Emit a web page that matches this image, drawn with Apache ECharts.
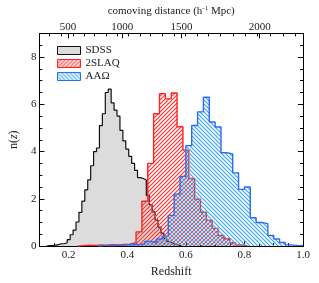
<!DOCTYPE html>
<html><head><meta charset="utf-8">
<script src="https://cdn.jsdelivr.net/npm/echarts@6/dist/echarts.min.js"></script>
<style>html,body{margin:0;padding:0;background:#fff}#c{width:319px;height:283px}</style>
</head><body><div id="c"></div>
<script>
// ---- data (bin start, bin width, bin heights) ----
const sdssStart = 0.125, sdssWidth = 0.01;
const sdssValues = [0.02,0.02,0.04,0.06,0.1,0.1,0.14,0.27,0.48,0.68,1.02,1.43,1.9,2.38,2.8,3.4,4.0,4.15,5.1,5.6,6.5,6.64,6.06,5.75,5.5,4.9,4.45,4.1,3.8,3.5,3.2,2.9,2.86,2.8,2.15,1.75,1.45,1.1,0.8,0.55,0.33,0.2,0.12,0.07,0.04,0.02];
const slaqStart = 0.23, slaqWidth = 0.02;
const slaqValues = [0.02,0.04,0.03,0.05,0.04,0.06,0.05,0.07,0.08,0.15,0.6,1.9,3.5,5.6,6.45,6.23,6.48,5.05,4.06,2.86,1.98,1.43,1.09,0.75,0.45,0.31,0.14,0.05,0.02];
const aaoStart = 0.30, aaoWidth = 0.02;
const aaoValues = [0.02,0.03,0.02,0.04,0.05,0.08,0.06,0.1,0.2,0.15,0.3,0.42,1.3,2.2,2.95,4.25,5.1,5.68,6.3,5.25,5.04,3.95,3.9,3.1,2.4,2.5,1.2,1.0,0.95,0.45,0.3,0.15,0.05,0.03,0.02];
const seriesNames = ['SDSS','2SLAQ','AA\u03A9'];
// ---- axes ----
const xMajor = [0.2,0.4,0.6,0.8,1.0];
const xMinorStep = 0.05;
const yMajor = [0,2,4,6,8];
const yMinorStep = 0.5;
const topLabelDist = [500,1000,1500,2000];
const topLabelZ = [0.198,0.383,0.585,0.852];
const topTickZ = [0.132,0.175,0.215,0.254,0.288,0.327,0.365,0.403,0.444,0.48,0.52,0.56,0.599,0.639,0.678,0.718,0.761,0.803,0.845,0.888,0.931,0.973];

function steps(start, w, vals) {
  const pts = [[start, 0]];
  vals.forEach((v, i) => pts.push([+(start + i * w).toFixed(4), v]));
  const end = +(start + vals.length * w).toFixed(4);
  pts.push([end, vals[vals.length - 1]]);
  pts.push([end, 0]);
  return pts;
}
function range(a, b, s) { const r = []; for (let i = 0; a + i * s <= b + 1e-9; i++) r.push(+(a + i * s).toFixed(4)); return r; }
function hatch(color, dir, size, lw) {
  const c = document.createElement('canvas'); c.width = c.height = size;
  const g = c.getContext('2d'); g.strokeStyle = color; g.lineWidth = lw; g.beginPath();
  if (dir > 0) {
    g.moveTo(0, size); g.lineTo(size, 0);
    g.moveTo(-1, 1); g.lineTo(1, -1);
    g.moveTo(size - 1, size + 1); g.lineTo(size + 1, size - 1);
  } else {
    g.moveTo(0, 0); g.lineTo(size, size);
    g.moveTo(-1, size - 1); g.lineTo(1, size + 1);
    g.moveTo(size - 1, -1); g.lineTo(size + 1, 1);
  }
  g.stroke();
  return { image: c, repeat: 'repeat' };
}
const F = 'Liberation Serif';
const redHatch = hatch('#ff3030', 1, 4, 1.2);
const blueHatch = hatch('#3aa8f0', -1, 4, 1.2);
const gray = '#dcdcdc';
const redLine = '#ff2020', blueLine = '#2f6cf5', blackLine = '#111';

const xMinor = range(0.1, 1.0, xMinorStep).filter(v => !xMajor.some(m => Math.abs(m - v) < 1e-6));
const yMinor = range(0, 9, yMinorStep).filter(v => !yMajor.some(m => Math.abs(m - v) < 1e-6));
const lbl = { fontFamily: F, fontSize: 11, color: '#222' };
function xa(pos, ticks, len, labels, extra) {
  return Object.assign({
    type: 'value', min: 0.1, max: 1.0, position: pos,
    axisLine: { show: true, onZero: false, lineStyle: { color: '#000', width: 1 } },
    axisTick: { inside: true, length: len, customValues: ticks, lineStyle: { color: '#000', width: 1 } },
    axisLabel: labels ? Object.assign({ customValues: ticks }, lbl, labels) : { show: false },
    splitLine: { show: false }
  }, extra || {});
}
function ya(pos, ticks, len, labels, extra) {
  return Object.assign({
    type: 'value', min: 0, max: 9, position: pos,
    axisLine: { show: true, onZero: false, lineStyle: { color: '#000', width: 1 } },
    axisTick: { inside: true, length: len, customValues: ticks, lineStyle: { color: '#000', width: 1 } },
    axisLabel: labels ? Object.assign({ customValues: ticks }, lbl, labels) : { show: false },
    splitLine: { show: false }
  }, extra || {});
}
const chart = echarts.init(document.getElementById('c'), null, { renderer: 'canvas' });
chart.setOption({
  animation: false,
  grid: { left: 38, right: 16, top: 26, bottom: 35, containLabel: false },
  legend: {
    orient: 'vertical', left: 52, top: 40, itemWidth: 23, itemHeight: 8, itemGap: 2,
    textStyle: { fontFamily: F, fontSize: 11, color: '#222' },
    data: [
      { name: seriesNames[0], icon: 'rect', itemStyle: { color: gray, borderColor: blackLine, borderWidth: 1 } },
      { name: seriesNames[1], icon: 'rect', itemStyle: { color: redHatch, borderColor: redLine, borderWidth: 1 } },
      { name: seriesNames[2], icon: 'rect', itemStyle: { color: blueHatch, borderColor: blueLine, borderWidth: 1 } }
    ]
  },
  xAxis: [
    xa('bottom', xMajor, 5, { margin: 4, formatter: v => v.toFixed(1) },
      { name: 'Redshift', nameLocation: 'middle', nameGap: 17, nameTextStyle: { fontFamily: F, fontSize: 12, color: '#222' } }),
    xa('bottom', xMinor, 3, null),
    xa('top', topLabelZ, 5, { margin: 1, formatter: v => { let k = 0; topLabelZ.forEach((z, i) => { if (Math.abs(z - v) < Math.abs(topLabelZ[k] - v)) k = i; }); return String(topLabelDist[k]); } },
      { name: 'comoving distance (h{s|-1} Mpc)', nameLocation: 'middle', nameGap: 5,
        nameTextStyle: { fontFamily: F, fontSize: 11, color: '#222', rich: { s: { fontFamily: F, fontSize: 7, verticalAlign: 'top', padding: [0, 0, 5, 0] } } } }),
    xa('top', topTickZ, 3, null)
  ],
  yAxis: [
    ya('left', yMajor, 5, { margin: 3 },
      { name: 'n({i|z})', nameLocation: 'middle', nameGap: 7, nameRotate: 90,
        nameTextStyle: { fontFamily: F, fontSize: 12, color: '#222', rich: { i: { fontFamily: F, fontSize: 12, fontStyle: 'italic' } } } }),
    ya('left', yMinor, 3, null),
    ya('right', yMajor, 5, null),
    ya('right', yMinor, 3, null)
  ],
  series: [
    { name: seriesNames[0], type: 'line', step: 'end', symbol: 'none', data: steps(sdssStart, sdssWidth, sdssValues),
      lineStyle: { color: blackLine, width: 1.2 }, itemStyle: { color: gray }, areaStyle: { color: gray, opacity: 1 }, z: 2 },
    { name: seriesNames[1], type: 'line', step: 'end', symbol: 'none', data: steps(slaqStart, slaqWidth, slaqValues),
      lineStyle: { color: redLine, width: 1.4 }, itemStyle: { color: redLine }, areaStyle: { color: redHatch, opacity: 1 }, z: 3 },
    { name: seriesNames[2], type: 'line', step: 'end', symbol: 'none', data: steps(aaoStart, aaoWidth, aaoValues),
      lineStyle: { color: blueLine, width: 1.4 }, itemStyle: { color: blueLine }, areaStyle: { color: blueHatch, opacity: 1 }, z: 4 }
  ]
});
</script></body></html>
